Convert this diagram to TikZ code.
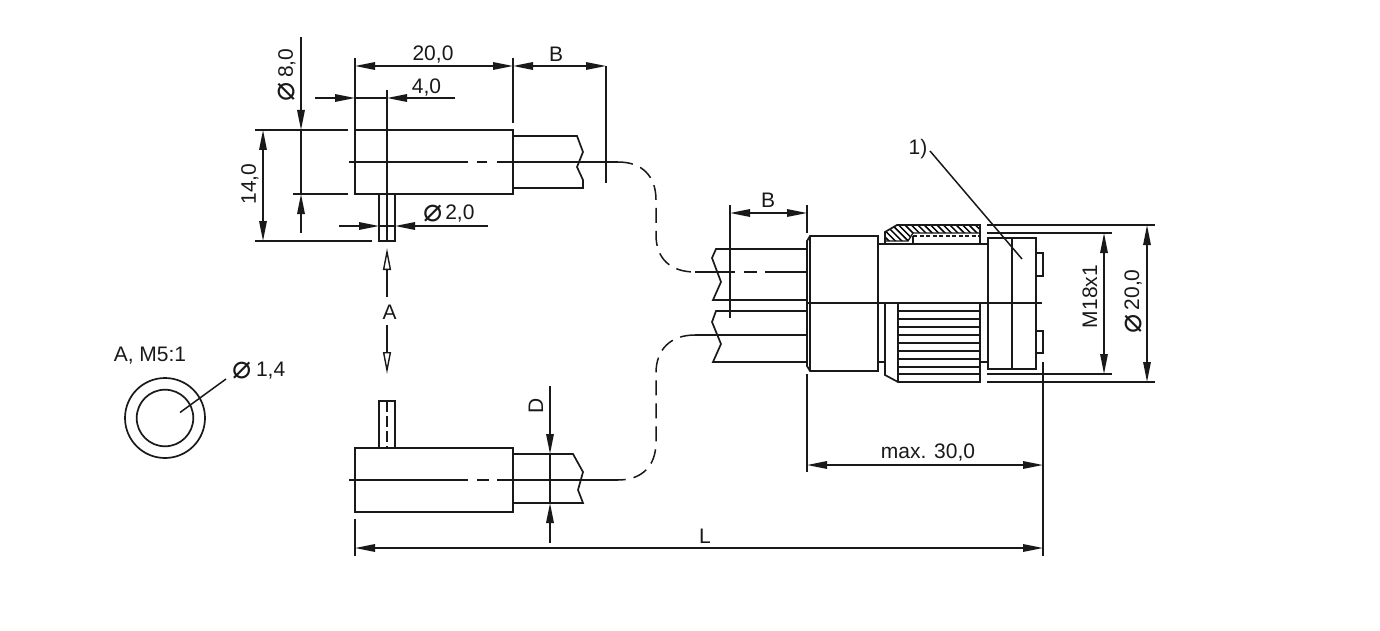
\documentclass[tikz,border=0pt]{standalone}
\usepackage{fontspec}
\setmainfont{Liberation Sans}
\newfontfamily\symfont{DejaVu Sans}
\usetikzlibrary{arrows.meta}
\newcommand{\dia}{\smash{\raisebox{-2pt}{\fontsize{32}{32}\symfont ⌀}}\hspace{-1pt}}
\tikzset{
  x=1pt,y=-1pt,
  ln/.style={line width=1.7pt,color=black!90,line join=miter},
  th/.style={line width=1.4pt,color=black!90},
  dimline/.style={line width=1.5pt,color=black!90},
  tip/.style={-{Triangle[length=20pt,width=7.5pt]}},
  tipboth/.style={{Triangle[length=20pt,width=7.5pt]}-{Triangle[length=20pt,width=7.5pt]}},
  opentip/.style={-{Triangle[open,length=22pt,width=8pt,line width=1.4pt]}},
  lab/.style={font=\fontsize{21}{23}\selectfont,color=black!90,inner sep=0pt},
  dashcurve/.style={line width=1.5pt,color=black!90,dash pattern=on 15pt off 8pt},
}
\begin{document}
\begin{tikzpicture}
\useasboundingbox (0,0) rectangle (1380,631);
% ---------- upper sensor
\draw[ln] (355,130) rectangle (513,194);
\draw[ln] (513,136) -- (577,136) -- (583,152) -- (577,167) -- (583,180) -- (583,188) -- (513,188);
\draw[ln] (379,194) -- (379,241) -- (395,241) -- (395,194);
\draw[dimline] (349,162) -- (468,162) (477,162) -- (487,162) (497,162) -- (618,162);
\draw[dimline] (387,90) -- (387,241);
% ext lines
\draw[dimline] (355,58) -- (355,130);
\draw[dimline] (513,58) -- (513,123);
\draw[dimline] (606,66) -- (606,183);
\draw[dimline] (255,130) -- (348,130);
\draw[dimline] (293,194) -- (348,194);
\draw[dimline] (255,241) -- (372,241);
% dims
\draw[dimline,tipboth] (355,66) -- (513,66);
\draw[dimline,tipboth] (513,66) -- (606,66);
\draw[dimline,tip] (315,98) -- (355,98);
\draw[dimline,tip] (455,98) -- (387,98);
\draw[dimline] (355,98) -- (387,98);
\draw[dimline,tip] (301,37) -- (301,130);
\draw[dimline] (301,130) -- (301,194);
\draw[dimline,tip] (301,233) -- (301,194);
\draw[dimline,tipboth] (263,130) -- (263,241);
\draw[dimline,tip] (339,226) -- (379,226);
\draw[dimline,tip] (488,226) -- (395,226);
\draw[dimline] (379,226) -- (395,226);
\node[lab] (t20) at (433,55) {20,0};
\node[lab] (tb1) at (556,54) {B};
\node[lab] (t4) at (426.5,87.5) {4,0};
\node[lab,rotate=90] (t8) at (287,75) {\dia\hspace{5pt}8,0};
\node[lab,rotate=90] (t14) at (250,184) {14,0};
\node[lab] (t2) at (449,214) {\dia\,2,0};
% A arrows
\draw[dimline,opentip] (387,297) -- (387,248);
\draw[dimline,opentip] (387,325) -- (387,374);
\node[lab] (ta) at (389.5,312) {A};
% ---------- detail
\draw[ln] (165,418) circle (40);
\draw[ln] (165,418) circle (28.3);
\draw[dimline] (180,412.5) -- (226,379);
\node[lab] (tm) at (150,356) {A, M5:1};
\node[lab] (t14b) at (259,371) {\dia\hspace{5pt}1,4};
% ---------- lower sensor
\draw[ln] (355,448) rectangle (513,512);
\draw[ln] (513,454) -- (573,454) -- (583,472) -- (578,490) -- (583,503) -- (513,503);
\draw[ln] (379,448) -- (379,401) -- (395,401) -- (395,448);
\draw[dimline,dash pattern=on 11pt off 4pt] (387,401) -- (387,448);
\draw[dimline] (349,480) -- (468,480) (477,480) -- (489,480) (497,480) -- (618,480);
\draw[dimline,tip] (550,386) -- (550,454);
\draw[dimline,tip] (550,543) -- (550,503);
\draw[dimline] (550,454) -- (550,503);
\node[lab,rotate=90] (td) at (536,406) {D};
% ---------- cables
\draw[dashcurve] (618,162) .. controls (642,162) and (656,176) .. (656,200) -- (656,235) .. controls (656,259) and (671,272) .. (695,272);
\draw[dashcurve] (695,335) .. controls (671,335) and (656,349) .. (656,373) -- (656,442) .. controls (656,466) and (642,480) .. (618,480);
% ---------- connector cables
\draw[ln] (807,249) -- (716,249) -- (712,258) -- (721,282) -- (713,300) -- (807,300);
\draw[ln] (807,311) -- (716,311) -- (712,322) -- (721,344) -- (713,362) -- (807,362);
\draw[dimline] (695,272) -- (735,272) (744,272) -- (757,272) (765,272) -- (807,272);
\draw[dimline] (695,335) -- (807,335);
\draw[dimline] (730,205) -- (730,318);
\draw[dimline] (807,205) -- (807,233);
\draw[dimline,tipboth] (730,213) -- (807,213);
\node[lab] (tb2) at (768,200) {B};
% ---------- connector
\draw[ln] (810,236) -- (878,236) -- (878,371) -- (810,371) -- (807,366) -- (807,241) -- cycle;
\draw[ln] (810,236) -- (810,371);
\draw[ln] (878,244) -- (988,244);
\draw[ln] (878,362) -- (885,362) (980,362) -- (988,362);
% hatched nut
\begin{scope}
\clip (885,232) -- (897,225) -- (980,225) -- (980,233) -- (913,233) -- (908,241) -- (885,241) -- cycle;
\foreach \i in {0,...,20}{
  \draw[line width=1.5pt] ({868+6.4*\i},220) -- ({892+6.4*\i},244);
}
\end{scope}
\draw[ln] (885,244) -- (885,232) -- (897,225) -- (980,225) -- (980,244);
\draw[th] (885,241) -- (908,241) -- (913,233) -- (980,233);
\draw[th,dash pattern=on 4pt off 2.5pt] (913,236) -- (980,236);
\draw[th] (913,236) -- (913,244);
% lower knurl
\draw[ln] (885,303) -- (885,375) -- (898,382) -- (980,382) -- (980,303);
\draw[ln] (898,303) -- (898,382);
\foreach \y in {311,319,327,335,343,351,359,367,374}{
  \draw[th] (898,\y) -- (980,\y);
}
% rear part
\draw[ln] (988,238) rectangle (1036,369);
\draw[ln] (1012,238) -- (1012,369);
\draw[ln] (1036,253) -- (1043,253) -- (1043,276) -- (1036,276);
\draw[ln] (1036,331) -- (1043,331) -- (1043,353) -- (1036,353);
\draw[ln] (807,303) -- (1042,303);
% right dims
\draw[dimline] (987,225) -- (1155,225);
\draw[dimline] (987,233) -- (1112,233);
\draw[dimline] (987,374) -- (1112,374);
\draw[dimline] (987,382) -- (1155,382);
\draw[dimline,tipboth] (1104,233) -- (1104,374);
\draw[dimline,tipboth] (1147,225) -- (1147,382);
\node[lab,rotate=90] (tm18) at (1090,296.5) {M18x1};
\node[lab,rotate=90] (t20b) at (1133,301.5) {\dia\hspace{5pt}20,0};
% leader
\draw[dimline] (930,151) -- (1022,259);
\node[lab] (t1) at (918,149) {1)};
% ---------- bottom dims
\draw[dimline] (807,374) -- (807,472);
\draw[dimline] (1043,362) -- (1043,556);
\draw[dimline] (355,519) -- (355,556);
\draw[dimline,tipboth] (807,465) -- (1043,465);
\draw[dimline,tipboth] (355,548) -- (1043,548);
\node[lab] (tmax) at (928,453) {max. 30,0};
\node[lab] (tl) at (705,536.5) {L};
\end{tikzpicture}
\end{document}
